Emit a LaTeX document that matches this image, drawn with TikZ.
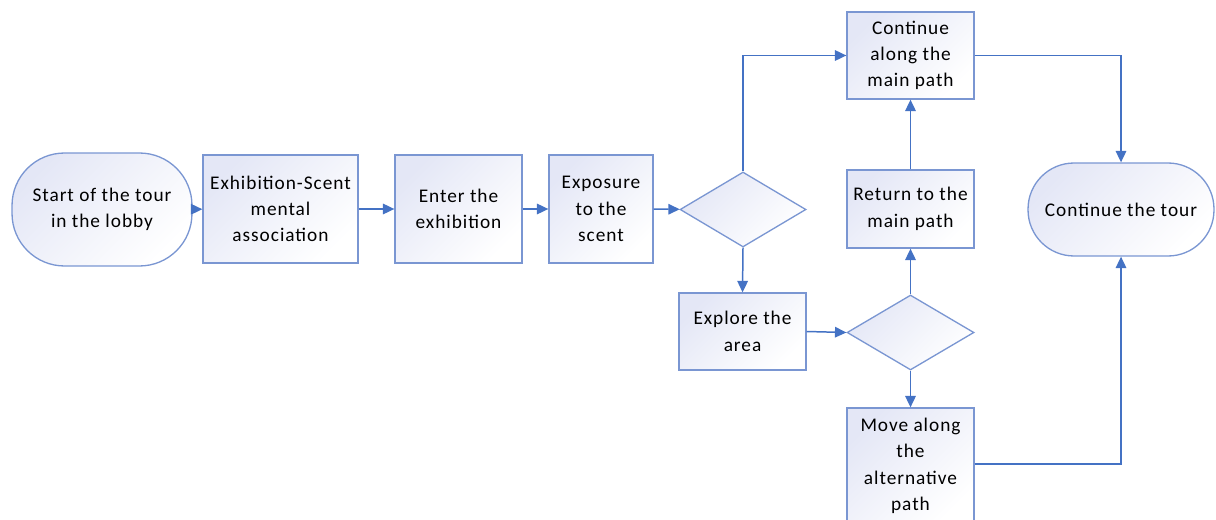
\documentclass[tikz,border=0pt]{standalone}
\usepackage{fontspec}
\setmainfont{Carlito}[LetterSpace=5]
\usepackage{tikz}
\usetikzlibrary{shapes.geometric}
\usetikzlibrary{arrows.meta}
\usetikzlibrary{positioning}

\definecolor{flowline}{RGB}{68,114,196}
\definecolor{flowedge}{RGB}{122,150,210}
\definecolor{flowfill}{RGB}{228,231,246}

\tikzset{
	procbox/.style={draw=flowedge,line width=0.75pt,top color=flowfill,bottom color=white,shading angle=45,align=center,inner sep=1pt,font=\fontsize{11}{15}\selectfont},
	terminal/.style={procbox},
	decision/.style={diamond,draw=flowedge,line width=0.75pt,top color=flowfill,bottom color=white,shading angle=45,inner sep=0pt},
	flow/.style={draw=flowline,line width=0.85pt,-{Triangle[length=6.5pt,width=6pt]}}
}

\begin{document}
\begin{tikzpicture}[x=0.02cm,y=-0.02cm]
			\useasboundingbox (0,0) rectangle (1216,520);
			%start and end of the tour
			\node[terminal,rounded corners=1.05cm,minimum width=3.6cm,minimum height=2.26cm] (start_tour) at (102,209.5) {Start of the tour\\in the lobby};
			\node[terminal,rounded corners=0.92cm,minimum width=3.72cm,minimum height=1.86cm] (end_tour) at (1121,209.5) {Continue the tour};
			%main row of steps
			\node[procbox,minimum width=3.1cm,minimum height=2.16cm] (scent_assoc) at (280.5,209) {Exhibition-Scent\\mental\\association};
			\node[procbox,minimum width=2.54cm,minimum height=2.16cm] (enter_exh) at (458.5,209) {Enter the\\exhibition};
			\node[procbox,minimum width=2.08cm,minimum height=2.16cm] (scent_exp) at (601,209) {Exposure\\to the\\scent};
			%decisions
			\node[decision,minimum width=2.52cm,minimum height=1.5cm] (choice_a) at (743,209.5) {};
			\node[decision,minimum width=2.54cm,minimum height=1.5cm] (choice_b) at (910.5,332.5) {};
			%side steps
			\node[procbox,minimum width=2.54cm,minimum height=1.54cm] (explore) at (742.5,331.5) {Explore the\\area};
			\node[procbox,minimum width=2.54cm,minimum height=1.56cm] (back_main) at (910.5,209) {Return to the\\main path};
			\node[procbox,minimum width=2.54cm,minimum height=1.74cm] (main_path) at (910.5,55.5) {Continue\\along the\\main path};
			\node[procbox,minimum width=2.54cm,minimum height=2.32cm] (alt_path) at (910.5,466) {Move along\\the\\alternative\\path};
			%connectors
			\draw[flow] (start_tour)--(scent_assoc);
			\draw[flow] (scent_assoc)--(enter_exh);
			\draw[flow] (enter_exh)--(scent_exp);
			\draw[flow] (scent_exp)--(choice_a);
			\draw[flow] (choice_a.north)|-(main_path.west);
			\draw[flow] (choice_a.south)--(explore.north);
			\draw[flow] (explore.east)--(choice_b.west);
			\draw[flow] (choice_b.north)--(back_main.south);
			\draw[flow] (back_main.north)--(main_path.south);
			\draw[flow] (choice_b.south)--(alt_path.north);
			\draw[flow] (main_path.east)-|(end_tour.north);
			\draw[flow] ([yshift=0.04cm]alt_path.east)-|(end_tour.south);
		\end{tikzpicture}
\end{document}
